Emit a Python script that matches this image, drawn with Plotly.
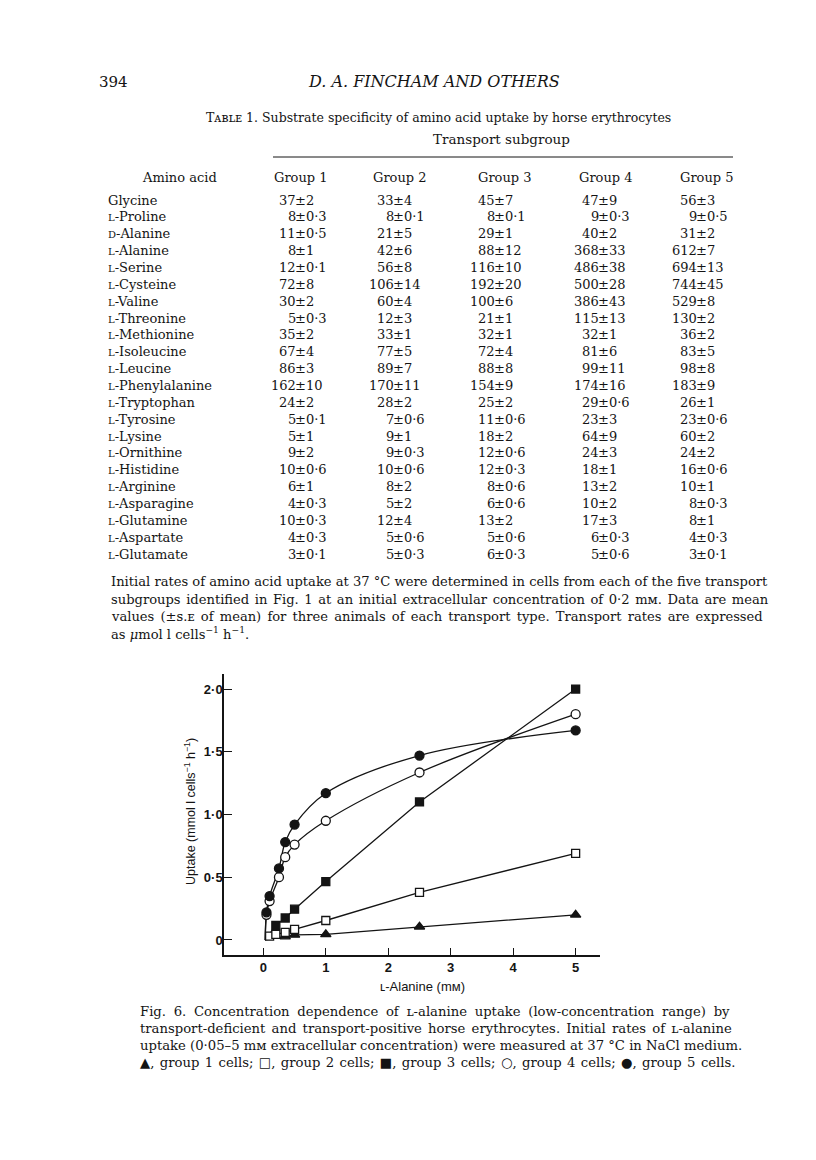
import plotly.graph_objects as go

W, H = 816, 1160
BODY = 8  # the browser's default page margin

# ---------------- Table data ----------------
amino_acids = ["Glycine", "L-Proline", "D-Alanine", "L-Alanine", "L-Serine", "L-Cysteine",
               "L-Valine", "L-Threonine", "L-Methionine", "L-Isoleucine", "L-Leucine",
               "L-Phenylalanine", "L-Tryptophan", "L-Tyrosine", "L-Lysine", "L-Ornithine",
               "L-Histidine", "L-Arginine", "L-Asparagine", "L-Glutamine", "L-Aspartate",
               "L-Glutamate"]
group_names = ["Group 1", "Group 2", "Group 3", "Group 4", "Group 5"]
group1_mean = [37, 8, 11, 8, 12, 72, 30, 5, 35, 67, 86, 162, 24, 5, 5, 9, 10, 6, 4, 10, 4, 3]
group1_sem = [2, 0.3, 0.5, 1, 0.1, 8, 2, 0.3, 2, 4, 3, 10, 2, 0.1, 1, 2, 0.6, 1, 0.3, 0.3, 0.3, 0.1]
group2_mean = [33, 8, 21, 42, 56, 106, 60, 12, 33, 77, 89, 170, 28, 7, 9, 9, 10, 8, 5, 12, 5, 5]
group2_sem = [4, 0.1, 5, 6, 8, 14, 4, 3, 1, 5, 7, 11, 2, 0.6, 1, 0.3, 0.6, 2, 2, 4, 0.6, 0.3]
group3_mean = [45, 8, 29, 88, 116, 192, 100, 21, 32, 72, 88, 154, 25, 11, 18, 12, 12, 8, 6, 13, 5, 6]
group3_sem = [7, 0.1, 1, 12, 10, 20, 6, 1, 1, 4, 8, 9, 2, 0.6, 2, 0.6, 0.3, 0.6, 0.6, 2, 0.6, 0.3]
group4_mean = [47, 9, 40, 368, 486, 500, 386, 115, 32, 81, 99, 174, 29, 23, 64, 24, 18, 13, 10, 17, 6, 5]
group4_sem = [9, 0.3, 2, 33, 38, 28, 43, 13, 1, 6, 11, 16, 0.6, 3, 9, 3, 1, 2, 2, 3, 0.3, 0.6]
group5_mean = [56, 9, 31, 612, 694, 744, 529, 130, 36, 83, 98, 183, 26, 23, 60, 24, 16, 10, 8, 8, 4, 3]
group5_sem = [3, 0.5, 2, 7, 13, 45, 8, 2, 2, 5, 8, 9, 1, 0.6, 2, 2, 0.6, 1, 0.3, 1, 0.3, 0.1]

# ---------------- Figure 6 data (L-alanine, mM ; uptake mmol/l cells/h) ----------------
curve_start_x, curve_start_y = 0.03, 0.0
conc_g1 = [0.35, 0.5, 1, 2.5, 5]
uptake_g1 = [0.027, 0.04, 0.045, 0.105, 0.20]
conc_g2 = [0.1, 0.2, 0.35, 0.5, 1, 2.5, 5]
uptake_g2 = [0.03, 0.045, 0.06, 0.085, 0.155, 0.38, 0.69]
conc_g3 = [0.2, 0.35, 0.5, 1, 2.5, 5]
uptake_g3 = [0.115, 0.175, 0.245, 0.465, 1.10, 2.0]
conc_g4 = [0.05, 0.1, 0.25, 0.35, 0.5, 1, 2.5, 5]
uptake_g4 = [0.20, 0.31, 0.50, 0.66, 0.76, 0.95, 1.335, 1.80]
conc_g5 = [0.05, 0.1, 0.25, 0.35, 0.5, 1, 2.5, 5]
uptake_g5 = [0.22, 0.35, 0.57, 0.78, 0.92, 1.17, 1.47, 1.67]
x_ticks = [0, 1, 2, 3, 4, 5]
y_ticks = [0, 0.5, 1.0, 1.5, 2.0]
y_ticktext = ["0", "0·5", "1·0", "1·5", "2·0"]

INK = "#141414"
SERIF = "DejaVu Serif"
SANS = "Liberation Sans"


def px(x, y):
    """page position (in screen pixels) -> paper fraction"""
    return (x - BODY) / W, 1 - (y - BODY) / H


def sc(s, size):
    return f"<span style='font-size:{size}px'>{s}</span>"


def justify(s, extra):
    if extra <= 0:
        return s
    return f"<span style='word-spacing:{extra}px'>{s}</span>"


def fmt(v):
    if float(v).is_integer():
        return str(int(v))
    return f"{v:.1f}".replace(".", "·")


def label(name, size=13):
    if name[:2] in ("L-", "D-"):
        return sc(name[0], size - 3) + name[1:]
    return name


annotations = []


def text(x, y, s, size=13, anchor="left", family=SERIF, **kw):
    ax, ay = px(x, y)
    annotations.append(dict(x=ax, y=ay, xref="paper", yref="paper", text=s, showarrow=False,
                            xanchor=anchor, yanchor="middle", borderpad=0,
                            font=dict(family=family, size=size, color=INK), **kw))


# Running head
text(98, 82, "394", 15)
text(434, 82, "<i>D. A. FINCHAM AND OTHERS</i>", 16, "center")

# Table title (small capitals written as Unicode small-capital letters)
text(438, 117, "Tᴀʙʟᴇ 1. Substrate specificity of amino acid uptake by horse erythrocytes",
     12.5, "center")
text(502, 139, "Transport subgroup", 13.5, "center")

# Column headers
text(179, 177, "Amino acid", 13, "center")
header_x = [301, 400, 505, 606, 707]
for hx, g in zip(header_x, group_names):
    text(hx, 177, g, 13, "center")

pm_x = [300, 398, 499, 603, 701]
means = [group1_mean, group2_mean, group3_mean, group4_mean, group5_mean]
sems = [group1_sem, group2_sem, group3_sem, group4_sem, group5_sem]
row_y0, row_dy = 200, 16.86
for i, aa in enumerate(amino_acids):
    y = row_y0 + row_dy * i
    text(107, y, label(aa), 13)
    for c in range(5):
        text(pm_x[c] - 3, y, fmt(means[c][i]), 13, "right")
        text(pm_x[c] - 6.5, y, "±" + fmt(sems[c][i]), 13, "left")

# Table footnote
foot = [
    "Initial rates of amino acid uptake at 37 °C were determined in cells from each of the five transport",
    "subgroups identified in Fig. 1 at an initial extracellular concentration of 0·2 mᴍ. Data are mean",
    "values (±ꜱ.ᴇ of mean) for three animals of each transport type. Transport rates are expressed",
    "as <i>μ</i>mol l cells<sup>−1</sup> h<sup>−1</sup>.",
]
foot_spacing = [0, 1.4, 2.0, 0]
for k, line in enumerate(foot):
    text(110, 582 + 17 * k, justify(line, foot_spacing[k]), 13.1)

# Figure legend
legend_lines = [
    "Fig. 6. Concentration dependence of ʟ-alanine uptake (low-concentration range) by",
    "transport-deficient and transport-positive horse erythrocytes. Initial rates of ʟ-alanine",
    "uptake (0·05–5 mᴍ extracellular concentration) were measured at 37 °C in NaCl medium.",
    "▲, group 1 cells; □, group 2 cells; ■, group 3 cells; ○, group 4 cells; ●, group 5 cells.",
]
legend_spacing = [3.5, 2.0, 0, 1.2]
for k, line in enumerate(legend_lines):
    text(139, 1011 + 17 * k, justify(line, legend_spacing[k]), 13.2)

# Axis titles of the chart
text(422, 986, "ʟ-Alanine (mᴍ)", 13, "center", SANS)
ax_, ay_ = px(190, 812)
annotations.append(dict(x=ax_, y=ay_, xref="paper", yref="paper", showarrow=False, textangle=-90,
                        text="Uptake (mmol l cells<sup>−1</sup> h<sup>−1</sup>)", xanchor="center",
                        yanchor="middle", font=dict(family=SANS, size=12.5, color=INK)))

fig = go.Figure()

series = [
    (conc_g1, uptake_g1, "triangle-up", INK, 9, "linear"),
    (conc_g2, uptake_g2, "square", "white", 8, "linear"),
    (conc_g3, uptake_g3, "square", INK, 8, "linear"),
    (conc_g4, uptake_g4, "circle", "white", 9, "spline"),
    (conc_g5, uptake_g5, "circle", INK, 9, "spline"),
]
for xs, ys, sym, fill, size, shape in series:
    fig.add_trace(go.Scatter(x=[curve_start_x] + xs, y=[curve_start_y] + ys, mode="lines",
                             line=dict(color=INK, width=1.3, shape=shape, smoothing=1.0),
                             hoverinfo="skip", showlegend=False))
for xs, ys, sym, fill, size, shape in series:
    fig.add_trace(go.Scatter(x=xs, y=ys, mode="markers",
                             marker=dict(symbol=sym, size=size, color=fill,
                                         line=dict(color=INK, width=1.3)),
                             showlegend=False))

(x0d, y0d), (x1d, y1d) = px(224, 955), px(600, 674)
(r0x, r0y), (r1x, _) = px(273, 157), px(733, 157)

fig.update_layout(
    width=W, height=H, margin=dict(l=0, r=0, t=0, b=0),
    paper_bgcolor="white", plot_bgcolor="white",
    annotations=annotations,
    shapes=[dict(type="line", xref="paper", yref="paper",
                 x0=r0x, x1=r1x, y0=r0y, y1=r0y, line=dict(color=INK, width=1))],
    xaxis=dict(domain=[x0d, x1d], range=[-0.63, 5.39], showgrid=False, zeroline=False,
               showline=True, linecolor=INK, linewidth=1.5, ticks="inside", ticklen=7,
               tickwidth=1.3, tickcolor=INK, tickvals=x_ticks,
               tickfont=dict(family=SANS, size=13, color=INK, weight="bold")),
    yaxis=dict(domain=[y0d, y1d], range=[-0.12, 2.12], showgrid=False, zeroline=False,
               showline=True, linecolor=INK, linewidth=1.5, ticks="inside", ticklen=8,
               tickwidth=1.3, tickcolor=INK, tickvals=y_ticks, ticktext=y_ticktext,
               ticklabelstandoff=-3,
               tickfont=dict(family=SANS, size=13, color=INK, weight="bold")),
)

fig.write_html("out.html")
